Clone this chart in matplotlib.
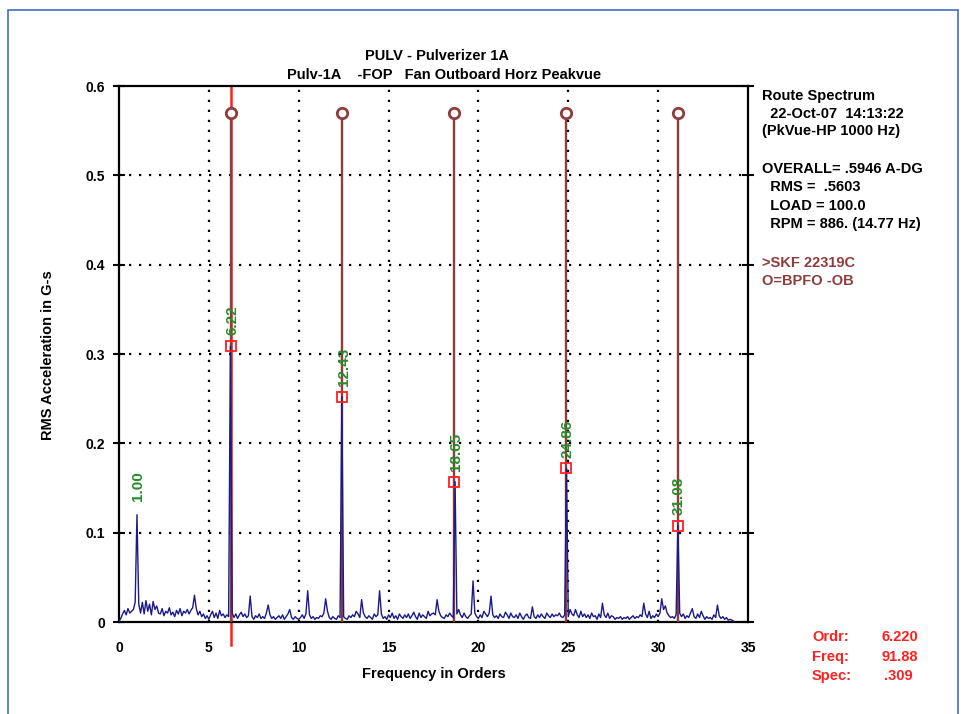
import numpy as np
import matplotlib
matplotlib.use("Agg")
import matplotlib.pyplot as plt
from matplotlib.patches import Rectangle

plt.rcParams['font.family'] = ['Liberation Sans', 'DejaVu Sans']
plt.rcParams['font.weight'] = 'bold'

# Spectrum amplitudes in milli-G, one value per 0.1 order, starting at order 0
spec_milli = [
    1, 4, 9, 13, 8, 15, 10, 12, 14, 22,
    120, 20, 10, 22, 9, 24, 12, 20, 8, 23,
    14, 18, 10, 9, 15, 7, 12, 10, 16, 8,
    11, 6, 13, 9, 15, 7, 12, 10, 14, 9,
    13, 16, 30, 15, 8, 12, 6, 9, 4, 7,
    3, 8, 12, 5, 10, 4, 13, 7, 9, 5,
    8, 6, 309, 10, 5, 9, 4, 8, 11, 6,
    9, 5, 7, 29, 6, 3, 7, 5, 9, 4,
    6, 4, 10, 19, 8, 4, 6, 3, 5, 7,
    4, 8, 3, 6, 9, 14, 5, 3, 6, 4,
    3, 5, 8, 4, 9, 35, 8, 4, 6, 3,
    5, 4, 7, 6, 10, 26, 12, 5, 3, 6,
    4, 3, 7, 5, 252, 6, 4, 3, 7, 5,
    8, 6, 12, 9, 5, 25, 10, 6, 4, 7,
    5, 3, 9, 6, 8, 35, 9, 4, 6, 3,
    8, 5, 10, 4, 7, 3, 9, 6, 4, 8,
    5, 9, 4, 7, 11, 6, 3, 10, 5, 8,
    6, 4, 12, 7, 9, 10, 8, 25, 12, 7,
    5, 4, 8, 6, 10, 7, 5, 157, 9, 14,
    8, 5, 10, 6, 4, 7, 9, 46, 10, 6,
    4, 8, 5, 12, 9, 6, 10, 29, 8, 5,
    7, 4, 9, 6, 5, 11, 8, 4, 10, 6,
    5, 8, 4, 10, 6, 3, 7, 9, 5, 4,
    17, 6, 4, 8, 5, 9, 6, 4, 10, 7,
    5, 9, 6, 8, 7, 10, 6, 5, 8, 172,
    6, 14, 9, 7, 14, 8, 5, 12, 6, 9,
    5, 8, 4, 10, 6, 7, 3, 9, 5, 21,
    8, 5, 10, 4, 7, 6, 3, 5, 4, 6,
    3, 5, 4, 6, 3, 5, 7, 4, 6, 5,
    8, 6, 21, 9, 5, 12, 4, 7, 5, 9,
    6, 10, 26, 14, 18, 10, 7, 5, 6, 4,
    8, 108, 10, 6, 9, 4, 7, 5, 10, 15,
    6, 4, 9, 5, 12, 7, 3, 6, 4, 5,
    3, 8, 5, 19, 7, 4, 6, 3, 5, 2,
    3, 2, 1,
]
order_step = 0.1

harm_orders = [6.22, 12.43, 18.65, 24.86, 31.08]
harm_peaks = [0.309, 0.252, 0.157, 0.172, 0.108]
harm_labels = ["6.22", "12.43", "18.65", "24.86", "31.08"]
bpfo_level = 0.57
run_order, run_peak, run_label = 1.00, 0.120, "1.00"
cursor_order = 6.22

xticks = [0, 5, 10, 15, 20, 25, 30, 35]
yticks = [0, 0.1, 0.2, 0.3, 0.4, 0.5, 0.6]
ytick_labels = ["0", "0.1", "0.2", "0.3", "0.4", "0.5", "0.6"]

info_black = ["Route Spectrum", "  22-Oct-07  14:13:22", "(PkVue-HP 1000 Hz)", "",
              "OVERALL= .5946 A-DG", "  RMS =  .5603", "  LOAD = 100.0",
              "  RPM = 886. (14.77 Hz)"]
info_brown = [">SKF 22319C", "O=BPFO -OB"]
cursor_keys = ["Ordr:", "Freq:", "Spec:"]
cursor_vals = ["6.220", "91.88", ".309"]

W, H = 967, 714
fig = plt.figure(figsize=(W / 100, H / 100), dpi=100)
ax = fig.add_axes([119 / W, 1 - 622 / H, (748 - 119) / W, (622 - 86) / H])

BROWN = '#8e3c3c'
NAVY = '#1a1a8a'
RED = '#ff2020'
GREEN = '#2a8a2a'

# grid
for gx in xticks[1:-1]:
    ax.plot([gx, gx], [0, 0.6], color='black', lw=1.6, ls=(0, (1, 3.5)), zorder=1)
for gy in yticks[1:-1]:
    ax.plot([0, 35], [gy, gy], color='black', lw=1.6, ls=(0, (1, 3.5)), zorder=1)

# cursor
ax.plot([cursor_order, cursor_order], [-0.026, 0.6], color=RED, lw=1.8, zorder=2, clip_on=False)

# harmonic lines + circles
for ho in harm_orders:
    ax.plot([ho, ho], [0, bpfo_level - 0.006], color=BROWN, lw=1.7, zorder=3)
    ax.plot([ho], [bpfo_level], marker='o', ms=7.5, mfc='white', mec=BROWN, mew=2, zorder=5)

# spectrum
spec = np.array(spec_milli) / 1000.0
xs = np.arange(len(spec)) * order_step
ax.plot(xs, spec, color=NAVY, lw=1.0, zorder=4)

# peak squares and labels
for ho, hp, hl in zip(harm_orders, harm_peaks, harm_labels):
    ax.plot([ho], [hp], marker='s', ms=6.5, mfc='none', mec=RED, mew=1.3, zorder=6)
    ax.text(ho + 0.08, hp + 0.012, hl, rotation=90, ha='center', va='bottom',
            color=GREEN, fontsize=11, fontweight='bold', zorder=7)
ax.text(run_order + 0.05, run_peak + 0.015, run_label, rotation=90, ha='center', va='bottom',
        color=GREEN, fontsize=11, fontweight='bold', zorder=7)

ax.set_xlim(0, 35)
ax.set_ylim(0, 0.6)
ax.set_xticks(xticks)
ax.set_xticklabels([str(t) for t in xticks])
ax.set_yticks(yticks)
ax.set_yticklabels(ytick_labels)
ax.tick_params(axis='x', length=0, pad=14, labelsize=10)
ax.tick_params(axis='y', direction='inout', length=8, width=1.5, labelsize=10, pad=6,
               right=True)
for s in ax.spines.values():
    s.set_linewidth(1.6)
    s.set_color('black')

ax.set_xlabel("Frequency in Orders", fontsize=10.5, fontweight='bold', labelpad=8)
fig.text(48 / W, 1 - 355 / H, "RMS Acceleration in G-s", rotation=90, ha='center', va='center',
         fontsize=10.5, fontweight='bold')

fig.text(437 / W, 1 - 56 / H, "PULV - Pulverizer 1A", ha='center', va='center',
         fontsize=10.5, fontweight='bold')
fig.text(444 / W, 1 - 75 / H, "Pulv-1A    -FOP   Fan Outboard Horz Peakvue", ha='center',
         va='center', fontsize=10.5, fontweight='bold')

ys_black = [96, 114, 131, 150, 169, 187, 206, 224]
for t, yy in zip(info_black, ys_black):
    if t:
        fig.text(762 / W, 1 - yy / H, t, ha='left', va='center', fontsize=10.5,
                 fontweight='bold', color='black')
for t, yy in zip(info_brown, [263, 281]):
    fig.text(762 / W, 1 - yy / H, t, ha='left', va='center', fontsize=10.5,
             fontweight='bold', color=BROWN)

for k, v, yy, xr in zip(cursor_keys, cursor_vals, [637, 657, 676], [918, 918, 913]):
    fig.text(812 / W, 1 - yy / H, k, ha='left', va='center', fontsize=10.5,
             fontweight='bold', color=RED)
    fig.text(xr / W, 1 - yy / H, v, ha='right', va='center', fontsize=10.5,
             fontweight='bold', color=RED)

fig.patches.append(Rectangle((8 / W, -0.05), (958 - 8) / W, 1.05 - 10 / H,
                             transform=fig.transFigure, fill=False, ec='#3f6fbf', lw=1.2))

fig.savefig("out.png", dpi=100)
